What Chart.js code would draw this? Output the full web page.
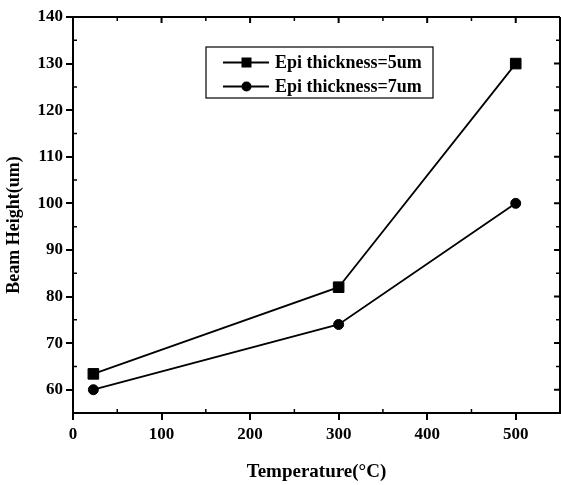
<!DOCTYPE html>
<html><head><meta charset="utf-8">
<script src="https://cdn.jsdelivr.net/npm/chart.js@4.4.1/dist/chart.umd.min.js"></script>
<style>html,body{margin:0;padding:0;background:#fff}canvas{display:block}</style>
</head><body>
<canvas id="c" width="561" height="485"></canvas>
<script>
// ---- data ----
const temperatures = [23, 300, 500];
const epi5 = [63.4, 82, 130];
const epi7 = [60, 74, 100];
const seriesLabels = ['Epi thickness=5um', 'Epi thickness=7um'];
const xTickValues = [0, 100, 200, 300, 400, 500];
const yTickValues = [60, 70, 80, 90, 100, 110, 120, 130, 140];
const xMinorValues = [50, 150, 250, 350, 450];
const yMinorValues = [65, 75, 85, 95, 105, 115, 125, 135];
const xTitle = 'Temperature(\u00B0C)';
const yTitle = 'Beam Height(um)';

const FONT = '"Liberation Serif", "Times New Roman", serif';

const toPts = (xs, ys) => xs.map((x, i) => ({x: x, y: ys[i]}));

const frame = {
  id: 'frame',
  afterDraw(chart) {
    const ctx = chart.ctx, a = chart.chartArea;
    const xs = chart.scales.x, ys = chart.scales.y;
    ctx.save();
    ctx.strokeStyle = '#000';
    ctx.lineWidth = 2;
    ctx.beginPath();
    ctx.moveTo(a.left, a.top); ctx.lineTo(a.right, a.top);
    ctx.moveTo(a.right, a.top); ctx.lineTo(a.right, a.bottom);
    ctx.stroke();
    ctx.beginPath();
    xTickValues.forEach(v => { const p = xs.getPixelForValue(v); if (p > a.left + 2) { ctx.moveTo(p, a.top); ctx.lineTo(p, a.top + 6); } });
    yTickValues.forEach(v => { const p = ys.getPixelForValue(v); if (p > a.top + 2) { ctx.moveTo(a.right, p); ctx.lineTo(a.right - 6, p); } });
    ctx.stroke();
    ctx.lineWidth = 1.5;
    ctx.beginPath();
    xMinorValues.forEach(v => { const p = xs.getPixelForValue(v);
      ctx.moveTo(p, a.bottom); ctx.lineTo(p, a.bottom - 4);
      ctx.moveTo(p, a.top); ctx.lineTo(p, a.top + 4); });
    yMinorValues.forEach(v => { const p = ys.getPixelForValue(v);
      ctx.moveTo(a.left, p); ctx.lineTo(a.left + 4, p);
      ctx.moveTo(a.right, p); ctx.lineTo(a.right - 4, p); });
    ctx.stroke();
    // y axis title
    ctx.fillStyle = '#000';
    ctx.font = 'bold 18px ' + FONT;
    ctx.textAlign = 'center';
    ctx.textBaseline = 'middle';
    ctx.translate(14, 225);
    ctx.rotate(-Math.PI / 2);
    ctx.fillText(yTitle, 0, 0);
    ctx.restore();
  }
};

const boxLegend = {
  id: 'boxLegend',
  afterDraw(chart) {
    const ctx = chart.ctx;
    const bx = 206, by = 47, bw = 227, bh = 51;
    ctx.save();
    ctx.fillStyle = '#fff';
    ctx.fillRect(bx, by, bw, bh);
    ctx.strokeStyle = '#000';
    ctx.lineWidth = 1.2;
    ctx.strokeRect(bx, by, bw, bh);
    const rows = [62.5, 86.5];
    chart.data.datasets.forEach((ds, i) => {
      const y = rows[i];
      ctx.strokeStyle = '#000';
      ctx.lineWidth = 1.8;
      ctx.beginPath(); ctx.moveTo(223, y); ctx.lineTo(269, y); ctx.stroke();
      ctx.fillStyle = '#000';
      if (ds.pointStyle === 'rect') ctx.fillRect(241.5, y - 5, 10, 10);
      else { ctx.beginPath(); ctx.arc(246.5, y, 5, 0, Math.PI * 2); ctx.fill(); }
      ctx.font = 'bold 18px ' + FONT;
      ctx.textBaseline = 'middle';
      ctx.textAlign = 'left';
      ctx.fillText(ds.label, 275, y + 1);
    });
    ctx.restore();
  }
};

new Chart(document.getElementById('c'), {
  type: 'scatter',
  data: {
    datasets: [
      { label: seriesLabels[0], data: toPts(temperatures, epi5), showLine: true,
        borderColor: '#000', backgroundColor: '#000', borderWidth: 1.8,
        pointStyle: 'rect', pointRadius: 7.5, pointBorderWidth: 1, pointBackgroundColor: '#000', pointBorderColor: '#000' },
      { label: seriesLabels[1], data: toPts(temperatures, epi7), showLine: true,
        borderColor: '#000', backgroundColor: '#000', borderWidth: 1.8,
        pointStyle: 'circle', pointRadius: 5, pointBorderWidth: 1, pointBackgroundColor: '#000', pointBorderColor: '#000' }
    ]
  },
  options: {
    responsive: false, animation: false, devicePixelRatio: 1,
    layout: { autoPadding: false, padding: { top: 17, right: 1, left: 0, bottom: 0 } },
    plugins: { legend: { display: false }, tooltip: { enabled: false } },
    scales: {
      x: {
        type: 'linear', min: 0, max: 550,
        afterBuildTicks: s => { s.ticks = xTickValues.map(v => ({ value: v })); },
        afterFit: s => { s.height = 72; },
        grid: { drawOnChartArea: false, drawTicks: true, tickLength: 7, color: '#000', lineWidth: 2 },
        border: { display: true, color: '#000', width: 2 },
        ticks: { color: '#000', font: { family: FONT, size: 17, weight: 'bold' }, padding: 4, maxRotation: 0, autoSkip: false },
        title: { display: true, text: xTitle, color: '#000', font: { family: FONT, size: 19, weight: 'bold', lineHeight: 1.4 }, padding: 0 }
      },
      y: {
        type: 'linear', min: 55, max: 140,
        afterBuildTicks: s => { s.ticks = yTickValues.map(v => ({ value: v })); },
        afterFit: s => { s.width = 73; },
        grid: { drawOnChartArea: false, drawTicks: true, tickLength: 7, color: '#000', lineWidth: 2 },
        border: { display: true, color: '#000', width: 2 },
        ticks: { color: '#000', font: { family: FONT, size: 17, weight: 'bold' }, padding: 3, autoSkip: false },
        title: { display: false, text: yTitle }
      }
    }
  },
  plugins: [frame, boxLegend]
});
</script>
</body></html>
